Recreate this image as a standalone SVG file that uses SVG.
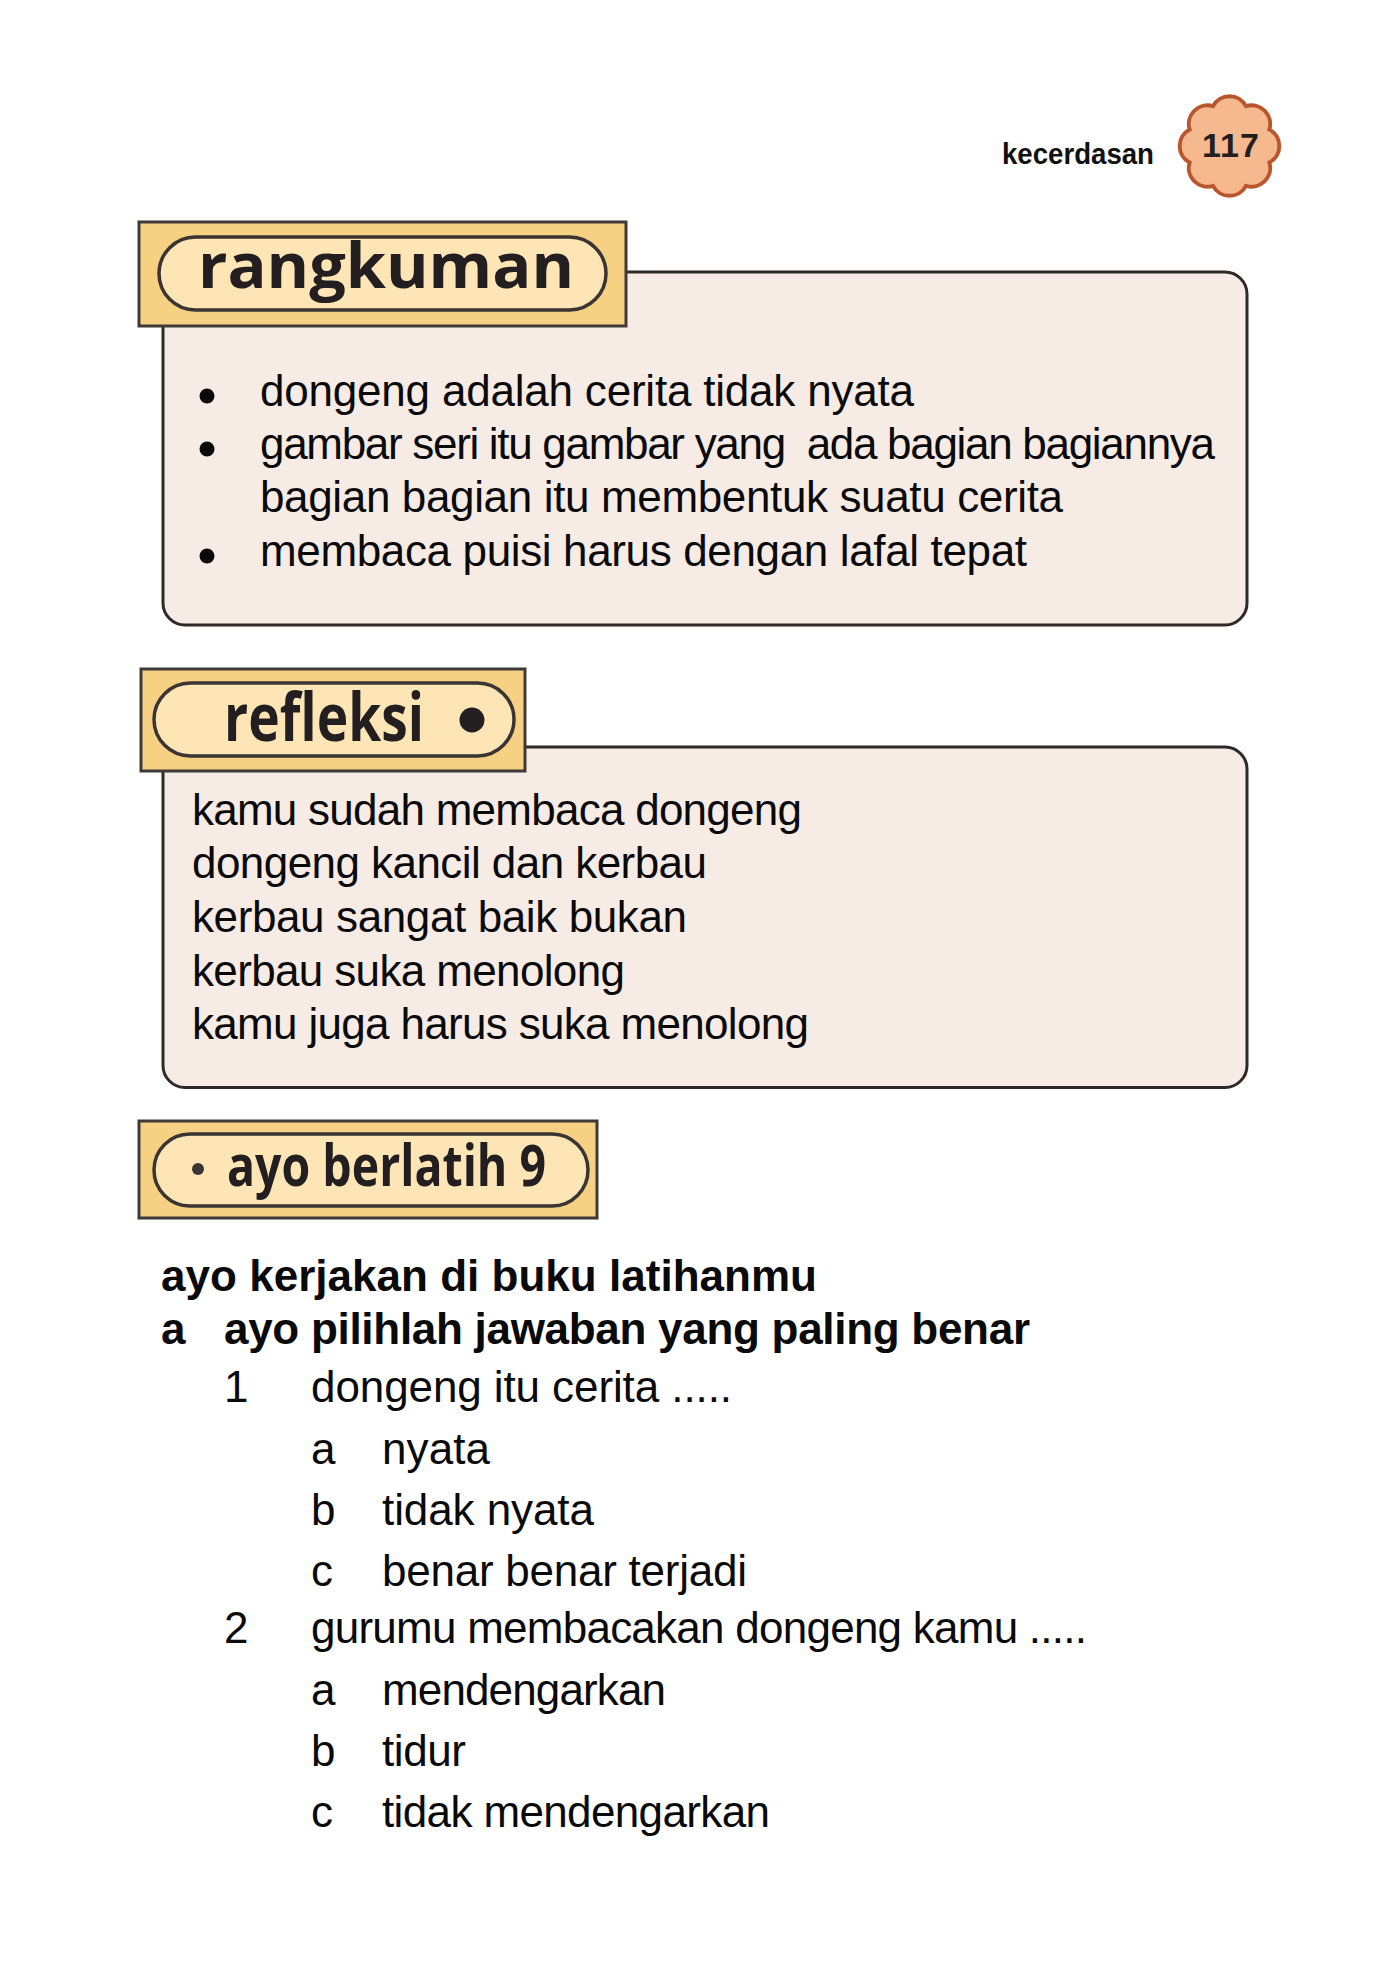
<svg xmlns="http://www.w3.org/2000/svg" width="1386" height="1969" viewBox="0 0 1386 1969">
<style>
.box{fill:#f6ebe5;stroke:#2f2a28;stroke-width:3}
.tab{fill:#f6d083;stroke:#3f3a38;stroke-width:3}
.pill{fill:#fee5b5;stroke:#3a3432;stroke-width:3.5}
.h{font-family:"Open Sans","Liberation Sans",sans-serif;font-weight:700;fill:#231f20}
.t{font-family:"Liberation Sans",Arial,sans-serif;font-size:44px;fill:#0a0a0a}
.b{font-family:"Liberation Sans",Arial,sans-serif;font-size:44px;font-weight:700;fill:#0a0a0a}
</style>
<rect width="1386" height="1969" fill="#fff"/>
<g id="page-header">
<text x="1002" y="164" textLength="152" lengthAdjust="spacingAndGlyphs" style="font-family:'Liberation Sans',Arial,sans-serif;font-size:29px;font-weight:700;fill:#111">kecerdasan</text>
<g transform="translate(1.5 1) translate(1228 145) scale(.98) translate(-1228 -145)">
<path d="M1268.65 128.16A19 19 0 0 1 1268.65 161.84A19 19 0 0 1 1244.84 185.65A19 19 0 0 1 1211.16 185.65A19 19 0 0 1 1187.35 161.84A19 19 0 0 1 1187.35 128.16A19 19 0 0 1 1211.16 104.35A19 19 0 0 1 1244.84 104.35A19 19 0 0 1 1268.65 128.16Z" fill="#f6b88f" stroke="#b9562c" stroke-width="4"/>
</g>
<text x="1202" y="157" textLength="57" lengthAdjust="spacing" style="font-family:'Liberation Sans',Arial,sans-serif;font-size:34px;font-weight:700;fill:#231f20">117</text>
</g>
<g id="rangkuman">
<rect class="box" x="163" y="272" width="1084" height="353" rx="22"/>
<rect class="tab" x="139" y="222" width="487" height="104"/>
<rect class="pill" x="159" y="237" width="447" height="73" rx="36.5"/>
<text class="h" x="198" y="288" font-size="62" textLength="376" lengthAdjust="spacingAndGlyphs">rangkuman</text>
<circle cx="207" cy="396" r="7.5" fill="#0a0a0a"/>
<circle cx="207" cy="449" r="7.5" fill="#0a0a0a"/>
<circle cx="207" cy="556" r="7.5" fill="#0a0a0a"/>
<text class="t" x="260" y="406" textLength="654" lengthAdjust="spacing">dongeng adalah cerita tidak nyata</text>
<text class="t" x="260" y="459" textLength="955" lengthAdjust="spacing" xml:space="preserve">gambar seri itu gambar yang  ada bagian bagiannya</text>
<text class="t" x="260" y="512" textLength="803" lengthAdjust="spacing">bagian bagian itu membentuk suatu cerita</text>
<text class="t" x="260" y="566" textLength="767" lengthAdjust="spacing">membaca puisi harus dengan lafal tepat</text>
</g>
<g id="refleksi">
<rect class="box" x="163" y="747" width="1084" height="340.5" rx="22"/>
<rect class="tab" x="141" y="669" width="384" height="102"/>
<rect class="pill" x="154" y="683" width="360" height="73" rx="36.5"/>
<text class="h" x="224" y="741" font-size="66" textLength="200" lengthAdjust="spacingAndGlyphs">refleksi</text>
<circle cx="472" cy="720" r="12.5" fill="#231f20"/>
<text class="t" x="192" y="825" textLength="610" lengthAdjust="spacing">kamu sudah membaca dongeng</text>
<text class="t" x="192" y="878" textLength="515" lengthAdjust="spacing">dongeng kancil dan kerbau</text>
<text class="t" x="192" y="932" textLength="495" lengthAdjust="spacing">kerbau sangat baik bukan</text>
<text class="t" x="192" y="986" textLength="433" lengthAdjust="spacing">kerbau suka menolong</text>
<text class="t" x="192" y="1039" textLength="617" lengthAdjust="spacing">kamu juga harus suka menolong</text>
</g>
<g id="ayo-berlatih">
<rect class="tab" x="139" y="1121" width="458" height="97"/>
<rect class="pill" x="154" y="1134" width="434" height="72" rx="36"/>
<circle cx="198" cy="1169" r="6" fill="#3a3432"/>
<text class="h" x="227" y="1186" font-size="58" textLength="319" lengthAdjust="spacingAndGlyphs">ayo berlatih 9</text>
</g>
<g id="latihan">
<text class="b" x="161" y="1291" textLength="656" lengthAdjust="spacing">ayo kerjakan di buku latihanmu</text>
<text class="b" x="161" y="1344">a</text>
<text class="b" x="224" y="1344" textLength="806" lengthAdjust="spacing">ayo pilihlah jawaban yang paling benar</text>
<text class="t" x="224" y="1402">1</text>
<text class="t" x="311" y="1402" textLength="421" lengthAdjust="spacing">dongeng itu cerita .....</text>
<text class="t" x="311" y="1464">a</text>
<text class="t" x="382" y="1464" textLength="108" lengthAdjust="spacing">nyata</text>
<text class="t" x="311" y="1525">b</text>
<text class="t" x="382" y="1525" textLength="212" lengthAdjust="spacing">tidak nyata</text>
<text class="t" x="311" y="1586">c</text>
<text class="t" x="382" y="1586" textLength="365" lengthAdjust="spacing">benar benar terjadi</text>
<text class="t" x="224" y="1643">2</text>
<text class="t" x="311" y="1643" textLength="776" lengthAdjust="spacing">gurumu membacakan dongeng kamu .....</text>
<text class="t" x="311" y="1705">a</text>
<text class="t" x="382" y="1705" textLength="284" lengthAdjust="spacing">mendengarkan</text>
<text class="t" x="382" y="1766" textLength="84" lengthAdjust="spacing">tidur</text>
<text class="t" x="311" y="1766">b</text>
<text class="t" x="311" y="1827">c</text>
<text class="t" x="382" y="1827" textLength="388" lengthAdjust="spacing">tidak mendengarkan</text>
</g>
</svg>
